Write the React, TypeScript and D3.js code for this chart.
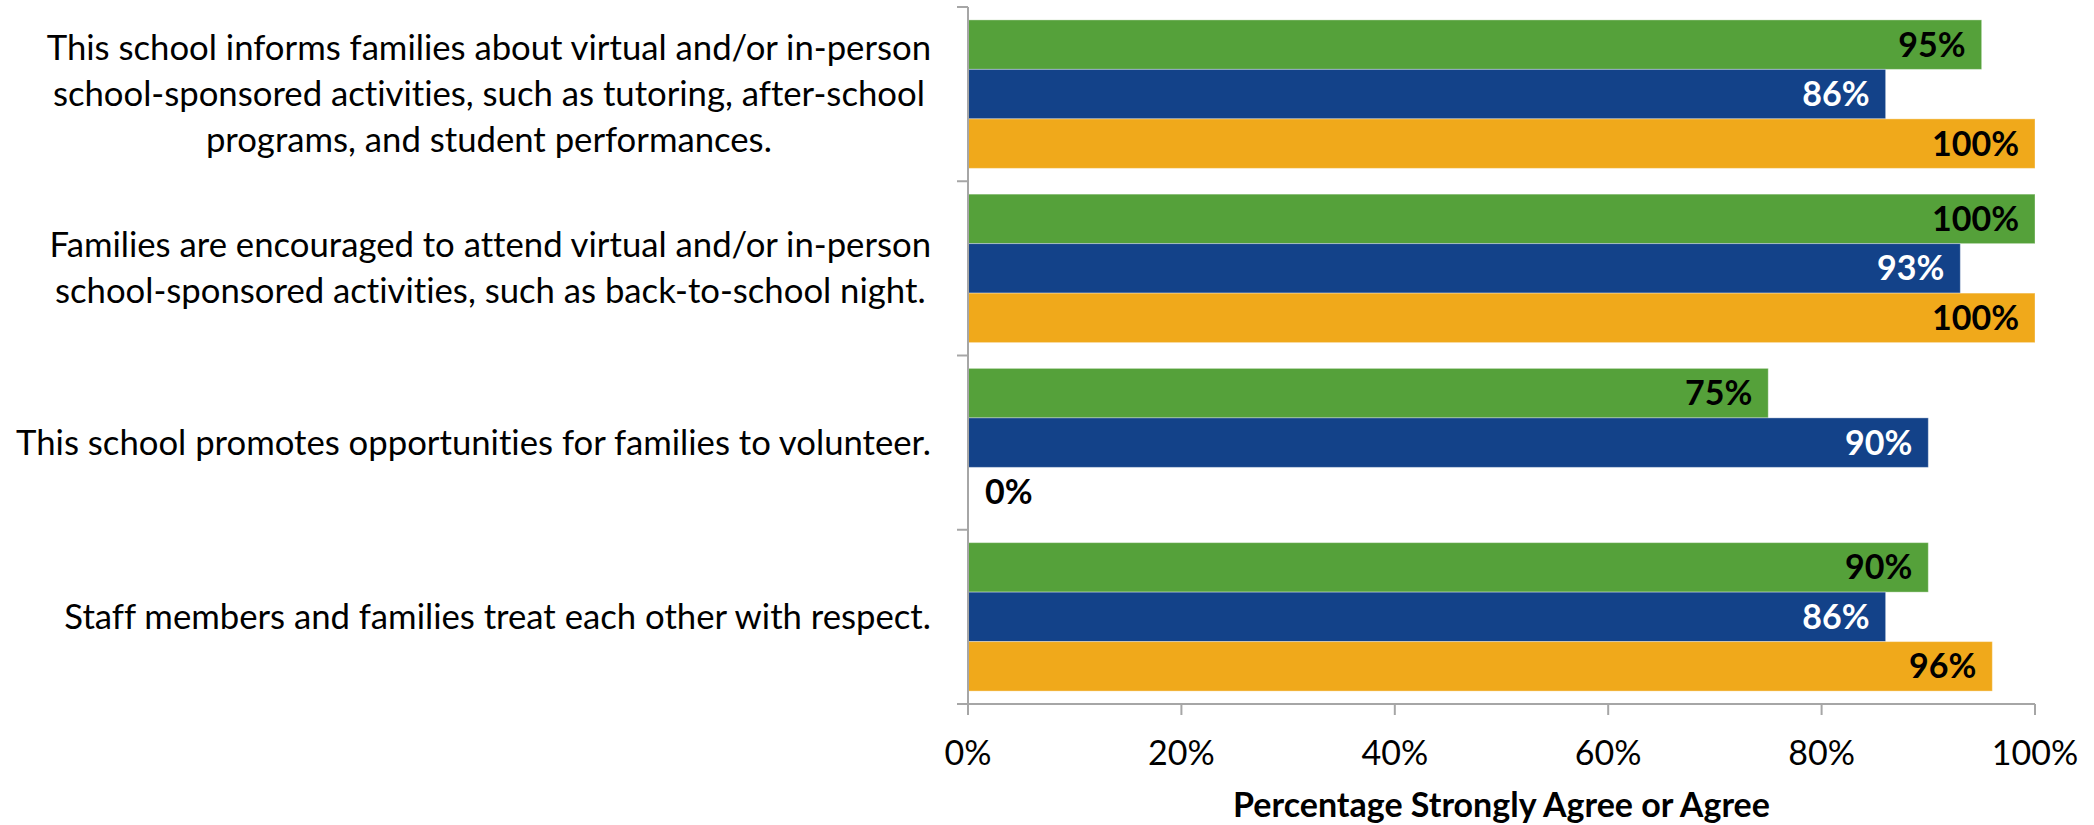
import { useEffect, useRef } from "react";
import * as d3 from "d3";

// Survey items (label lines as they wrap in the original)
const categories = [
  "informs",
  "encouraged",
  "volunteer",
  "respect",
];
const categoryLines = [
  [
    "This school informs families about virtual and/or in-person",
    "school-sponsored activities, such as tutoring, after-school",
    "programs, and student performances.",
  ],
  [
    "Families are encouraged to attend virtual and/or in-person",
    "school-sponsored activities, such as back-to-school night.",
  ],
  ["This school promotes opportunities for families to volunteer."],
  ["Staff members and families treat each other with respect."],
];

const seriesNames = ["green", "blue", "orange"];
const greenValues = [95, 100, 75, 90];
const blueValues = [86, 93, 90, 86];
const orangeValues = [100, 100, 0, 96];
const xTickValues = [0, 20, 40, 60, 80, 100];
const axisTitle = "Percentage Strongly Agree or Agree";

const CHART = {
  WIDTH: 2094,
  HEIGHT: 825,
  PLOT: { left: 968, right: 2035, top: 7, bottom: 704 },
  FONT: "Lato, 'Noto Sans', sans-serif",
  LABEL_SIZE: 34,
  CAT_SIZE: 34.7,
  LABEL_RIGHT: 931,
  LINE_GAP: 46,
  AXIS_COLOR: "#a6a6a6",
  TICK: 11,
} as const;

const COLORS: Record<string, string> = {
  green: "#55a13a",
  blue: "#134289",
  orange: "#f0a91b",
};
const LABEL_COLORS: Record<string, string> = {
  green: "#000000",
  blue: "#ffffff",
  orange: "#000000",
};

export default function App() {
  const svgRef = useRef<SVGSVGElement>(null);

  useEffect(() => {
    if (!svgRef.current) return;
    const svg = d3.select(svgRef.current);
    svg.selectAll("*").remove();

    const { PLOT } = CHART;
    const x = d3.scaleLinear().domain([0, 100]).range([PLOT.left, PLOT.right]);
    const p = 0.148;
    const y = d3
      .scaleBand<string>()
      .domain(categories)
      .range([PLOT.top, PLOT.bottom])
      .paddingInner(p)
      .paddingOuter(p / 2);
    const sub = d3
      .scaleBand<string>()
      .domain(seriesNames)
      .range([0, y.bandwidth()]);

    const valuesBySeries: Record<string, number[]> = {
      green: greenValues,
      blue: blueValues,
      orange: orangeValues,
    };

    const rows = categories.flatMap((c, i) =>
      seriesNames.map((s) => ({ cat: c, series: s, value: valuesBySeries[s][i] }))
    );

    // Bars
    svg
      .append("g")
      .selectAll("rect")
      .data(rows.filter((d) => d.value > 0))
      .join("rect")
      .attr("x", x(0))
      .attr("y", (d) => y(d.cat)! + sub(d.series)!)
      .attr("width", (d) => x(d.value) - x(0))
      .attr("height", sub.bandwidth())
      .attr("fill", (d) => COLORS[d.series])
      .attr("stroke", "#ffffff")
      .attr("stroke-opacity", 0.35)
      .attr("stroke-width", 1);

    // Value labels
    svg
      .append("g")
      .selectAll("text")
      .data(rows)
      .join("text")
      .attr("x", (d) => (d.value > 0 ? x(d.value) - 16 : x(0) + 17))
      .attr("y", (d) => y(d.cat)! + sub(d.series)! + sub.bandwidth() / 2 + 12)
      .attr("text-anchor", (d) => (d.value > 0 ? "end" : "start"))
      .attr("font-family", CHART.FONT)
      .attr("font-weight", 700)
      .attr("font-size", CHART.LABEL_SIZE)
      .attr("fill", (d) => (d.value > 0 ? LABEL_COLORS[d.series] : "#000"))
      .text((d) => `${d.value}%`);

    // Category labels: block right aligned, lines centred within the block
    categories.forEach((c, i) => {
      const lines = categoryLines[i];
      const center = y(c)! + y.bandwidth() / 2;
      const g = svg.append("g");
      const texts = g
        .selectAll("text")
        .data(lines)
        .join("text")
        .attr("font-family", CHART.FONT)
        .attr("font-size", CHART.CAT_SIZE)
        .style("font-variant-ligatures", "none")
        .attr("fill", "#000")
        .attr("text-anchor", "middle")
        .attr("y", (_, j) => center + (j - (lines.length - 1) / 2) * CHART.LINE_GAP + 12)
        .text((d) => d);
      const maxW = d3.max(texts.nodes(), (n) => (n as SVGTextElement).getComputedTextLength()) ?? 0;
      texts.attr("x", CHART.LABEL_RIGHT - maxW / 2);
    });

    // Left axis with ticks between categories
    const boundaries = [PLOT.top, ...categories.map((c) => y(c)! + y.bandwidth() + (y.step() * p) / 2)];
    const axisG = svg.append("g").attr("stroke", CHART.AXIS_COLOR).attr("stroke-width", 2);
    axisG
      .append("line")
      .attr("x1", x(0))
      .attr("x2", x(0))
      .attr("y1", PLOT.top)
      .attr("y2", PLOT.bottom);
    axisG
      .selectAll(".ytick")
      .data(boundaries)
      .join("line")
      .attr("x1", x(0) - CHART.TICK)
      .attr("x2", x(0))
      .attr("y1", (d) => d)
      .attr("y2", (d) => d);

    // Bottom axis
    axisG
      .append("line")
      .attr("x1", x(0))
      .attr("x2", x(100))
      .attr("y1", PLOT.bottom)
      .attr("y2", PLOT.bottom);
    axisG
      .selectAll(".xtick")
      .data(xTickValues)
      .join("line")
      .attr("x1", (d) => x(d))
      .attr("x2", (d) => x(d))
      .attr("y1", PLOT.bottom)
      .attr("y2", PLOT.bottom + CHART.TICK);

    svg
      .append("g")
      .selectAll("text")
      .data(xTickValues)
      .join("text")
      .attr("x", (d) => x(d))
      .attr("y", 765)
      .attr("text-anchor", "middle")
      .attr("font-family", CHART.FONT)
      .attr("font-size", CHART.LABEL_SIZE)
      .attr("fill", "#000")
      .text((d) => `${d}%`);

    svg
      .append("text")
      .attr("x", (PLOT.left + PLOT.right) / 2)
      .attr("y", 817)
      .attr("text-anchor", "middle")
      .attr("font-family", CHART.FONT)
      .attr("font-weight", 700)
      .attr("font-size", CHART.LABEL_SIZE)
      .attr("fill", "#000")
      .text(axisTitle);
  }, []);

  return (
    <div style={{ position: "absolute", left: 0, top: 0, background: "#fff" }}>
      <svg ref={svgRef} width={CHART.WIDTH} height={CHART.HEIGHT} style={{ display: "block" }} />
    </div>
  );
}
